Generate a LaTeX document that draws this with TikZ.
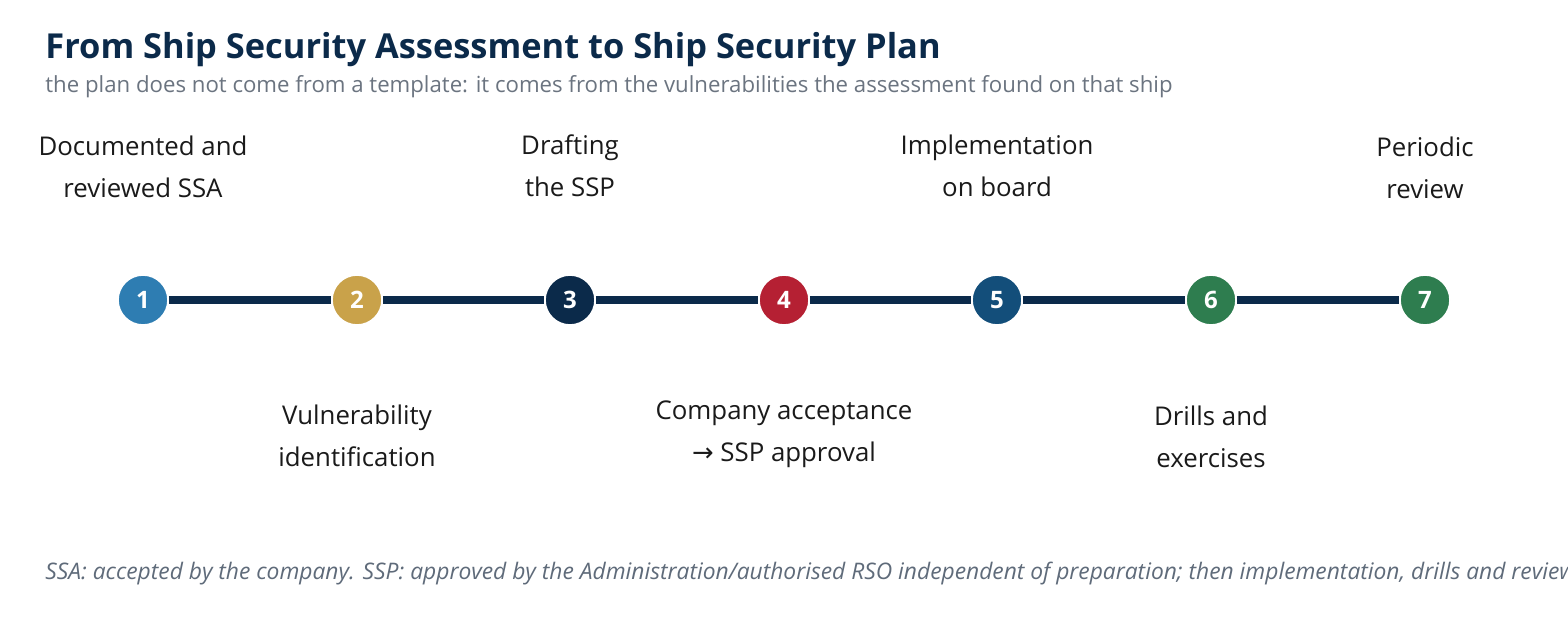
\documentclass[tikz,border=0pt]{standalone}
\usepackage{fontspec}
\setmainfont{Open Sans}
\newfontfamily\arrowfont{DejaVu Sans}
\begin{document}
\begin{tikzpicture}[x=0.5pt,y=-0.5pt,
  step circ/.style={circle, minimum size=25pt, inner sep=0pt, draw=white, line width=0.8pt, text=white, font=\bfseries\fontsize{12}{13}\selectfont},
  step lbl/.style={align=center, text=labelcol, font=\fontsize{12.9}{21}\selectfont, inner sep=0pt},
  track/.style={draw=navy, line width=4pt}]
\definecolor{navy}{HTML}{0B2A4A}
\definecolor{labelcol}{HTML}{1A1A1A}
\definecolor{subgray}{HTML}{6B7480}
\definecolor{footgray}{HTML}{5F6B7A}
\definecolor{cblue}{HTML}{2E7DB2}
\definecolor{cgold}{HTML}{C9A24A}
\definecolor{cred}{HTML}{B52033}
\definecolor{cdblue}{HTML}{134E7A}
\definecolor{cgreen}{HTML}{2E7D4F}
\useasboundingbox (0,0) rectangle (1568,620);
\clip (0,0) rectangle (1568,620);
\fill[white] (0,0) rectangle (1568,620);

\node[anchor=west, inner sep=0pt, text=navy, font=\bfseries\fontsize{17.2}{19}\selectfont] (title) at (45,50) {From Ship Security Assessment to Ship Security Plan};
\node[anchor=west, inner sep=0pt, text=subgray, font=\fontsize{11.1}{13}\selectfont] (sub) at (45,87) {the plan does not come from a template: it comes from the vulnerabilities the assessment found on that ship};

\node[step circ, fill=cblue] (c1) at (143,300) {1};
\node[step circ, fill=cgold] (c2) at (357,300) {2};
\node[step circ, fill=navy] (c3) at (570,300) {3};
\node[step circ, fill=cred] (c4) at (784,300) {4};
\node[step circ, fill=cdblue] (c5) at (997,300) {5};
\node[step circ, fill=cgreen] (c6) at (1211,300) {6};
\node[step circ, fill=cgreen] (c7) at (1425,300) {7};

\draw[track] (c1) -- (c2);
\draw[track] (c2) -- (c3);
\draw[track] (c3) -- (c4);
\draw[track] (c4) -- (c5);
\draw[track] (c5) -- (c6);
\draw[track] (c6) -- (c7);

\node[step lbl] (l1) at (143,167) {Documented and\\reviewed SSA};
\node[step lbl] (l3) at (570,166) {Drafting\\the SSP};
\node[step lbl] (l5) at (997,166) {Implementation\\on board};
\node[step lbl] (l7) at (1425,168) {Periodic\\review};
\node[step lbl] (l2) at (357,436) {Vulnerability\\identification};
\node[step lbl] (l4) at (784,434) {Company acceptance\\{\arrowfont →} SSP approval};
\node[step lbl] (l6) at (1211,437) {Drills and\\exercises};

\node[anchor=west, inner sep=0pt, text=footgray, font=\itshape\fontsize{11.4}{13}\selectfont] (foot) at (45,574) {SSA: accepted by the company. SSP: approved by the Administration/authorised RSO independent of preparation; then implementation, drills and review.};
\end{tikzpicture}
\end{document}
